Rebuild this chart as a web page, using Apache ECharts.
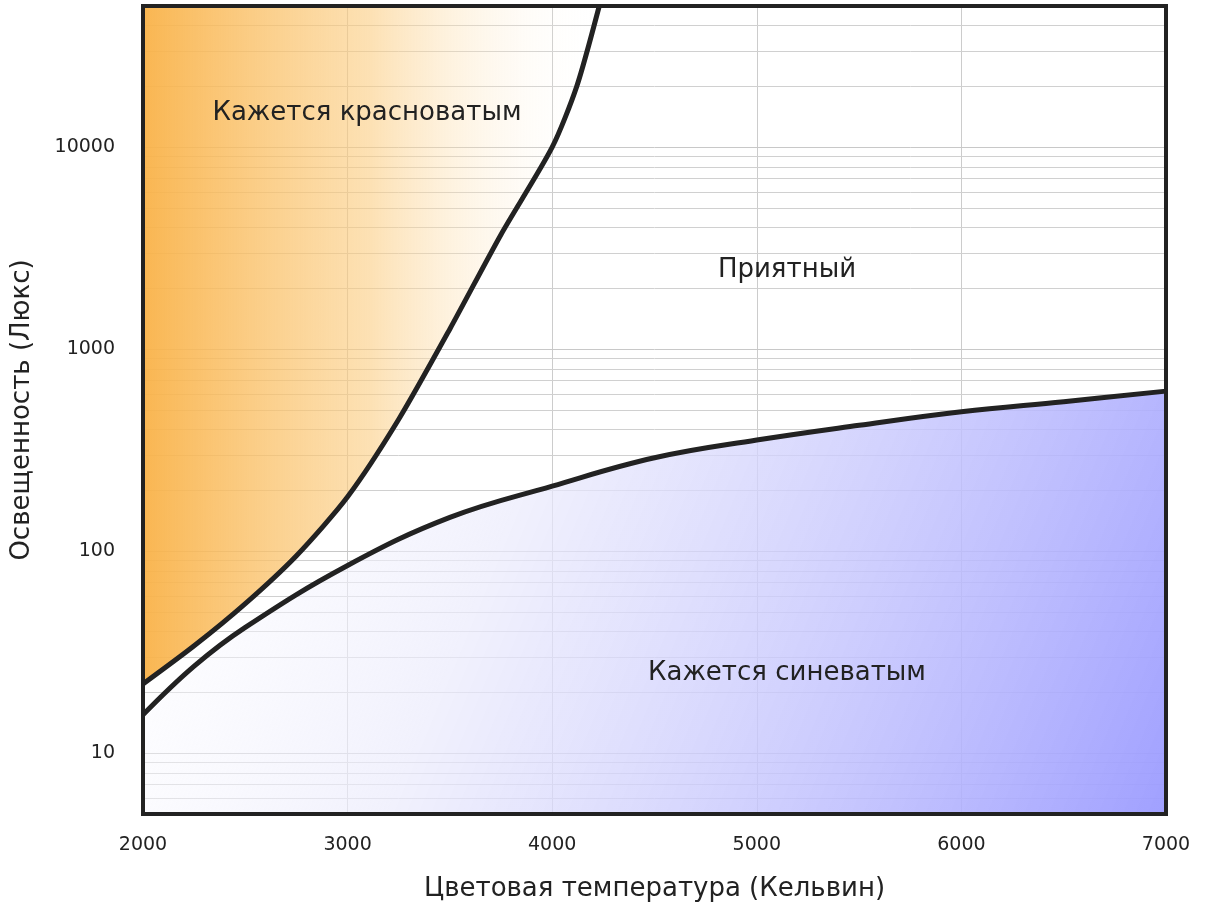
<!DOCTYPE html>
<html><head><meta charset="utf-8">
<script src="https://cdn.jsdelivr.net/npm/echarts@6/dist/echarts.min.js"></script>
<style>html,body{margin:0;padding:0;background:#fff}#c{width:1214px;height:910px}</style>
</head><body><div id="c"></div>
<script>
const upperCurve = [[2000,22],[2250,34],[2500,55],[2750,95],[3000,186],[3250,450],[3500,1260],[3750,3700],[4000,10000],[4120,20000],[4230,50000]];
const lowerCurve = [[2000,15.5],[2250,27],[2500,42],[3000,85],[3500,147],[4000,210],[4500,290],[5000,355],[5500,420],[6000,490],[6500,550],[7000,620]];
const xTicks = [2000,3000,4000,5000,6000,7000];
const yTicks = [10,100,1000,10000];
const labels = [
  {text:'Кажется красноватым', x:367, y:113},
  {text:'Приятный', x:787, y:270},
  {text:'Кажется синеватым', x:787, y:673}
];
const minorVals = [];
[1,10,100,1000,10000].forEach(d=>{for(let k=1;k<=9;k++){const v=k*d; if(v>=5&&v<=50000&&!yTicks.includes(v)) minorVals.push(v);}});

const chart = echarts.init(document.getElementById('c'));
chart.setOption({
  animation:false,
  grid:{left:143,right:48,top:6,bottom:96,show:true,borderColor:'#222',borderWidth:4,z:10},
  xAxis:{type:'value',min:2000,max:7000,interval:1000,
    axisLine:{show:false},axisTick:{show:false},
    axisLabel:{fontSize:19,color:'#222',margin:22,fontFamily:'DejaVu Sans',formatter:v=>String(v)},
    splitLine:{lineStyle:{color:'#ccc',width:1}},
    name:'Цветовая температура (Кельвин)',nameLocation:'middle',nameGap:62,
    nameTextStyle:{fontSize:26,color:'#222',fontFamily:'DejaVu Sans'}},
  yAxis:{type:'log',min:5,max:50000,logBase:10,
    axisLine:{show:false},axisTick:{show:false},
    axisLabel:{fontSize:19,color:'#222',margin:28,fontFamily:'DejaVu Sans',
      formatter:v=>yTicks.includes(Math.round(v))?String(Math.round(v)):''},
    splitLine:{show:false},
    name:'Освещенность (Люкс)',nameLocation:'middle',nameGap:108,
    nameTextStyle:{fontSize:26,color:'#222',fontFamily:'DejaVu Sans'}},
  series:[
    {type:'line',data:[],silent:true,
      markLine:{silent:true,symbol:'none',label:{show:false},
        data:minorVals.map(v=>({yAxis:v,lineStyle:{color:'#d0d0d0',width:1,type:'solid'}}))
          .concat(yTicks.map(v=>({yAxis:v,lineStyle:{color:'#c8c8c8',width:1,type:'solid'}})))}},
    {type:'line',data:upperCurve,smooth:0.25,symbol:'none',z:5,
      lineStyle:{color:'#222',width:5},
      areaStyle:{origin:'end',opacity:1,color:{type:'linear',x:0,y:0,x2:1,y2:0,
        colorStops:[{offset:0,color:'rgba(249,178,72,0.95)'},{offset:0.5,color:'rgba(251,205,130,0.6)'},{offset:1,color:'rgba(255,255,255,0)'}]}}},
    {type:'line',data:lowerCurve,smooth:0.4,symbol:'none',z:5,
      lineStyle:{color:'#222',width:5},
      areaStyle:{origin:'start',opacity:1,color:{type:'linear',x:0,y:0,x2:1,y2:1,
        colorStops:[{offset:0,color:'rgba(255,255,255,0.3)'},{offset:0.35,color:'rgba(235,235,252,0.7)'},{offset:1,color:'rgba(155,155,255,0.95)'}]}}}
  ],
  graphic:labels.map(l=>({type:'text',x:l.x,y:l.y,z:20,
    style:{text:l.text,fontSize:26,fill:'#222',fontFamily:'DejaVu Sans',textAlign:'center',textVerticalAlign:'middle'}}))
});
</script></body></html>
